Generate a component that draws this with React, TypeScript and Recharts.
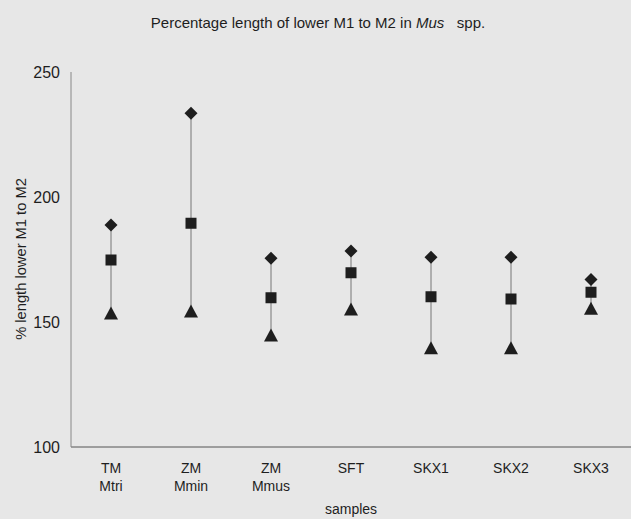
import React from "react"
import { ComposedChart, Bar, Scatter, XAxis, YAxis } from "recharts"

// samples on the x axis (two-line labels)
const categories = ["TM|Mtri", "ZM|Mmin", "ZM|Mmus", "SFT", "SKX1", "SKX2", "SKX3"]
const maxValues = [188.8, 233.5, 175.5, 178.4, 175.9, 175.9, 167]
const meanValues = [174.8, 189.5, 159.7, 169.7, 160.1, 159.2, 161.9]
const minValues = [153.6, 154.4, 144.8, 155.2, 139.7, 139.7, 155.5]
const yTicks = [100, 150, 200, 250]

const data = categories.map((cat, i) => ({
  cat,
  max: maxValues[i],
  mean: meanValues[i],
  min: minValues[i],
  range: [minValues[i], maxValues[i]],
}))

const ink = "#1e1e1e"
const font = "'Liberation Sans', Arial, sans-serif"

const Whisker = (props) => {
  const { x, y, width, height } = props
  const cx = x + width / 2
  return <line x1={cx} x2={cx} y1={y} y2={y + height} stroke="#777" strokeWidth={1} />
}

const Diamond = ({ cx, cy }) => (
  <polygon points={`${cx},${cy - 6.5} ${cx + 6.5},${cy} ${cx},${cy + 6.5} ${cx - 6.5},${cy}`} fill={ink} />
)
const Square = ({ cx, cy }) => <rect x={cx - 5.5} y={cy - 5.5} width={11} height={11} fill={ink} />
const Triangle = ({ cx, cy }) => (
  <polygon points={`${cx},${cy - 6.5} ${cx + 7},${cy + 6.5} ${cx - 7},${cy + 6.5}`} fill={ink} />
)

const CatTick = ({ x, y, payload }) => {
  const lines = String(payload.value).split("|")
  return (
    <g transform={`translate(${x},${y})`}>
      {lines.map((l, i) => (
        <text key={i} x={0} y={i * 18} dy={18} textAnchor="middle" fill={ink} fontSize={14} fontFamily={font}>
          {l}
        </text>
      ))}
    </g>
  )
}

export default function App() {
  return (
    <div style={{ position: "absolute", left: 0, top: 0, width: 631, height: 519, background: "#e7e7e7", fontFamily: font }}>
      <div
        style={{
          position: "absolute",
          top: 14,
          left: 318,
          transform: "translateX(-50%)",
          whiteSpace: "nowrap",
          fontSize: 15,
          color: ink,
        }}
      >
        Percentage length of lower M1 to M2 in <i>Mus</i>&nbsp;&nbsp;&nbsp;spp.
      </div>
      <div
        style={{
          position: "absolute",
          left: 21,
          top: 259,
          transform: "translate(-50%, -50%) rotate(-90deg)",
          whiteSpace: "nowrap",
          fontSize: 14.7,
          color: ink,
        }}
      >
        % length lower M1 to M2
      </div>
      <div
        style={{
          position: "absolute",
          top: 501,
          left: 351,
          transform: "translateX(-50%)",
          fontSize: 14,
          color: ink,
        }}
      >
        samples
      </div>
      <ComposedChart width={631} height={519} data={data} margin={{ top: 72, right: 0, left: 0, bottom: 0 }}>
        <XAxis
          dataKey="cat"
          height={72}
          tick={<CatTick />}
          tickLine={false}
          axisLine={{ stroke: "#555" }}
          interval={0}
        />
        <YAxis
          width={71}
          domain={[100, 250]}
          ticks={yTicks}
          type="number"
          allowDataOverflow
          tick={{ fill: ink, fontSize: 16, fontFamily: font }}
          tickLine={false}
          tickSize={4}
          tickMargin={7}
          axisLine={{ stroke: "#888" }}
        />
        <Bar dataKey="range" shape={<Whisker />} isAnimationActive={false} />
        <Scatter dataKey="max" shape={<Diamond />} isAnimationActive={false} />
        <Scatter dataKey="mean" shape={<Square />} isAnimationActive={false} />
        <Scatter dataKey="min" shape={<Triangle />} isAnimationActive={false} />
      </ComposedChart>
    </div>
  )
}
